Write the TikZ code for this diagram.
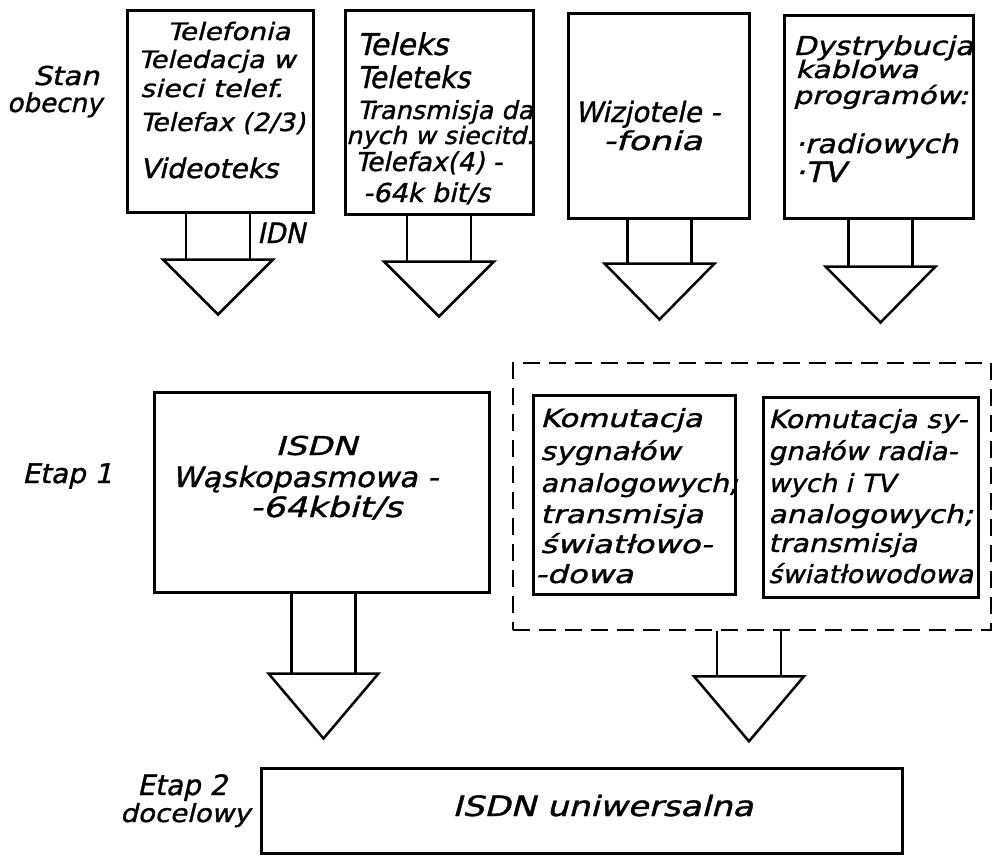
\documentclass[tikz,border=0pt]{standalone}
\usepackage{fontspec}
\usepackage{graphicx}
% slanted, slightly emboldened sans for the drawing-office lettering
\newfontfamily\letteringfont{DejaVu Sans}[FakeSlant=0.22, FakeBold=1.2]

% x to the right, y downwards, one unit = 1pt
\tikzset{
  x=1pt, y=-1pt,
  frame/.style={draw, line width=3pt, inner sep=0pt},
  groupframe/.style={draw, line width=2.6pt, dash pattern=on 17pt off 9pt, inner sep=0pt},
  stemline/.style={line width=2.2pt},
  headline/.style={line width=2.5pt, line join=miter},
  lettering/.style={inner sep=0pt, anchor=base west, font=\letteringfont},
}

% \boxnode{name}{cx}{cy}{width}{height}
\newcommand\boxnode[5]{\node[frame, minimum width=#4pt, minimum height=#5pt] (#1) at (#2,#3) {};}

% \ltext[size]{name}{x}{baseline y}{width}{text}: one hand-lettered line
\newcommand\ltext[6][25]{\node[lettering] (#2) at (#3,#4)
  {\fontsize{#1pt}{#1pt}\selectfont\resizebox{#5pt}{\height}{#6}};}

% \hollowarrow{node}{axis offset}{stem length}{head height}: open block arrow below a node
\newcommand\hollowarrow[4]{%
  \draw[stemline] ([xshift=#2pt-32pt]#1.south) -- ++(0pt,-#3pt)
                  ([xshift=#2pt+32pt]#1.south) -- ++(0pt,-#3pt);
  \draw[headline] ([shift={(#2pt-55pt,-#3pt)}]#1.south) -- ++(110pt,0pt)
                  -- ([shift={(#2pt,-#3pt-#4pt)}]#1.south) -- cycle;}

\begin{document}
\begin{tikzpicture}
\useasboundingbox (0,0) rectangle (995,857);

% ---- present state ----
\ltext[26]{stan}{33}{85}{66}{Stan}
\ltext[26]{obecny}{7}{112}{95}{obecny}

\boxnode{tel}{220}{111}{186}{202}
\ltext[24]{tel1}{167}{40}{123}{Telefonia}
\ltext[24]{tel2}{138}{68}{157}{Teledacja w}
\ltext[24]{tel3}{140}{97}{143}{sieci telef.}
\ltext[25]{tel4}{140}{131}{165}{Telefax (2/3)}
\ltext[27]{tel5}{140}{178}{138}{Videoteks}
\hollowarrow{tel}{-2}{46}{55}
\ltext[28]{idn}{257}{243}{48}{IDN}

\boxnode{telx}{439}{112}{188}{204}
\ltext[30]{telx1}{357}{55}{91}{Teleks}
\ltext[30]{telx2}{357}{88}{113}{Teleteks}
\ltext[25]{telx3}{357}{119}{176}{Transmisja da}
\ltext[24]{telx4}{346}{144}{188}{nych w siecitd.}
\ltext[26]{telx5}{355}{171}{147}{Telefax(4) -}
\ltext[26]{telx6}{363}{202}{127}{-64k bit/s}
\hollowarrow{telx}{0}{46}{55}

\boxnode{wiz}{658.5}{115.5}{181}{205}
\ltext[28]{wiz1}{575}{122}{145}{Wizjotele -}
\ltext[26]{wiz2}{603}{150}{99}{-fonia}
\hollowarrow{wiz}{1}{44}{56}

\boxnode{dys}{878.5}{116.5}{189}{203}
\ltext[26]{dys1}{793}{55}{180}{Dystrybucja}
\ltext[24]{dys2}{795}{78}{123}{kablowa}
\ltext[24]{dys3}{793}{104}{175}{programów:}
\ltext[26]{dys4}{795}{153}{163}{·radiowych}
\ltext[28]{dys5}{795}{182}{50}{·TV}
\hollowarrow{dys}{2}{47}{56}

% ---- stage 1 ----
\ltext[27]{etap1}{22}{483}{90}{Etap 1}

\boxnode{isdn}{321.5}{492}{335}{200}
\ltext[26]{isdn1}{275}{455}{82}{ISDN}
\ltext[28]{isdn2}{172}{487}{266}{Wąskopasmowa -}
\ltext[28]{isdn3}{250}{517}{152}{-64kbit/s}
\hollowarrow{isdn}{2}{80}{65}

\node[groupframe, minimum width=478pt, minimum height=267pt] (grp) at (752,496.5) {};

\boxnode{kan}{634}{494.5}{202}{199}
\ltext{kan1}{540}{427}{162}{Komutacja}
\ltext{kan2}{540}{460}{140}{sygnałów}
\ltext{kan3}{540}{492}{198}{analogowych;}
\ltext{kan4}{540}{523}{163}{transmisja}
\ltext{kan5}{540}{553}{172}{światłowo-}
\ltext{kan6}{535}{583}{98}{-dowa}

\boxnode{krt}{870.5}{497}{215}{200}
\ltext{krt1}{768}{428}{199}{Komutacja sy-}
\ltext{krt2}{768}{460}{189}{gnałów radia-}
\ltext{krt3}{768}{492}{127}{wych i TV}
\ltext{krt4}{768}{523}{205}{analogowych;}
\ltext{krt5}{768}{552}{149}{transmisja}
\ltext{krt6}{768}{583}{205}{światłowodowa}

\hollowarrow{grp}{-3}{45}{65}

% ---- stage 2 ----
\ltext[28]{etap2}{137}{795}{90}{Etap 2}
\ltext[25]{docel}{120}{822}{130}{docelowy}

\boxnode{uni}{581.5}{810.5}{641}{85}
\ltext[28]{uni1}{452}{816}{301}{ISDN uniwersalna}
\end{tikzpicture}
\end{document}
